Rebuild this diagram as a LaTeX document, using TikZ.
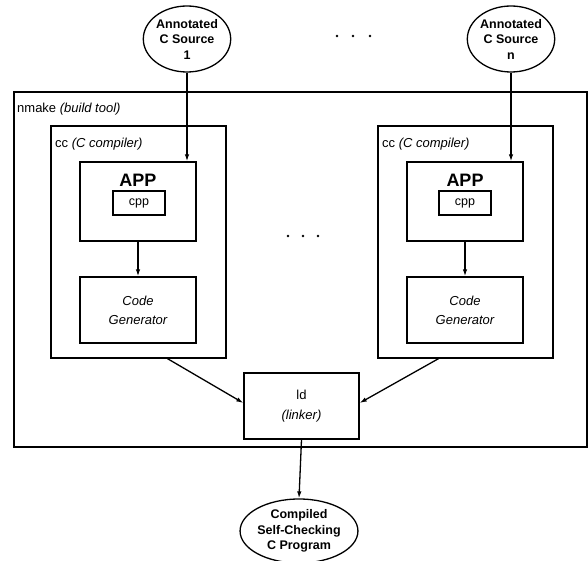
\documentclass[tikz,border=0pt]{standalone}
\usepackage{fontspec}
\setmainfont{Liberation Sans}
\usetikzlibrary{arrows.meta,shapes.geometric,calc}
\begin{document}
\begin{tikzpicture}[x=1pt,y=-1pt,
  box/.style={draw,line width=1.3pt,rectangle,inner sep=0pt},
  oval/.style={draw,line width=1.3pt,ellipse,inner sep=0pt,align=center,
    font=\bfseries\fontsize{12.5}{15.5}\selectfont},
  lbl/.style={inner sep=0pt,font=\fontsize{13}{15}\selectfont},
  arr/.style={line width=1.3pt,-{Latex[length=7pt,width=4.5pt]}},
  dot/.style={circle,fill,inner sep=0pt,minimum size=2.6pt}]
\useasboundingbox (0,0) rectangle (588,561);
% source ellipses
\node[oval,minimum width=84pt,minimum height=66pt] (e1) at (187,39) {Annotated\\C Source\\1};
\node[oval,minimum width=84pt,minimum height=66pt] (e2) at (511,39) {Annotated\\C Source\\n};
\node[dot] (t1) at (337,36) {};
\node[dot] (t2) at (353,36) {};
\node[dot] (t3) at (370,36) {};
% nmake box
\node[box,minimum width=573pt,minimum height=355pt] (nm) at (300.5,269.5) {};
\node[lbl,anchor=west] (nml) at (17,109) {nmake \textit{(build tool)}};
% left compiler
\node[box,minimum width=175pt,minimum height=232pt] (cc1) at (138.5,242) {};
\node[lbl,anchor=west] (cc1l) at (55,144) {cc \textit{(C compiler)}};
\node[box,minimum width=116pt,minimum height=79pt] (app1) at (138,201.5) {};
\node[inner sep=0pt,font=\bfseries\fontsize{18}{18}\selectfont] (app1l) at (138,180) {APP};
\node[box,minimum width=52pt,minimum height=24pt,font=\fontsize{12.5}{12.5}\selectfont] (cpp1) at (139,203) {cpp};
\node[box,minimum width=116pt,minimum height=66pt,align=center,font=\itshape\fontsize{13}{19}\selectfont] (cg1) at (138,310) {Code\\Generator};
% right compiler
\node[box,minimum width=175pt,minimum height=232pt] (cc2) at (465.5,242) {};
\node[lbl,anchor=west] (cc2l) at (382,144) {cc \textit{(C compiler)}};
\node[box,minimum width=116pt,minimum height=79pt] (app2) at (465,201.5) {};
\node[inner sep=0pt,font=\bfseries\fontsize{18}{18}\selectfont] (app2l) at (465,180) {APP};
\node[box,minimum width=52pt,minimum height=24pt,font=\fontsize{12.5}{12.5}\selectfont] (cpp2) at (465,203) {cpp};
\node[box,minimum width=116pt,minimum height=66pt,align=center,font=\itshape\fontsize{13}{19}\selectfont] (cg2) at (465,310) {Code\\Generator};
% middle dots
\node[dot] (m1) at (288,236) {};
\node[dot] (m2) at (303,236) {};
\node[dot] (m3) at (318,236) {};
% linker
\node[box,minimum width=115pt,minimum height=66pt,align=center,font=\fontsize{13}{20}\selectfont] (ld) at (301.5,406) {ld\\\textit{(linker)}};
% output
\node[oval,minimum width=112pt,minimum height=64pt] (out) at (299,531) {Compiled\\Self-Checking\\C Program};
% connectors
\draw[arr] (e1.south) -- (e1.south |- app1.north);
\draw[arr] (e2.south) -- (e2.south |- app2.north);
\draw[arr] (app1.south) -- (cg1.north);
\draw[arr] (app2.south) -- (cg2.north);
\draw[arr] ($(cc1.south)+(29,0)$) -- ($(ld.west)+(0,-3)$);
\draw[arr] ($(cc2.south)+(-27,0)$) -- ($(ld.east)+(0,-3)$);
\draw[arr] (ld.south) -- (out.north);
\end{tikzpicture}
\end{document}
